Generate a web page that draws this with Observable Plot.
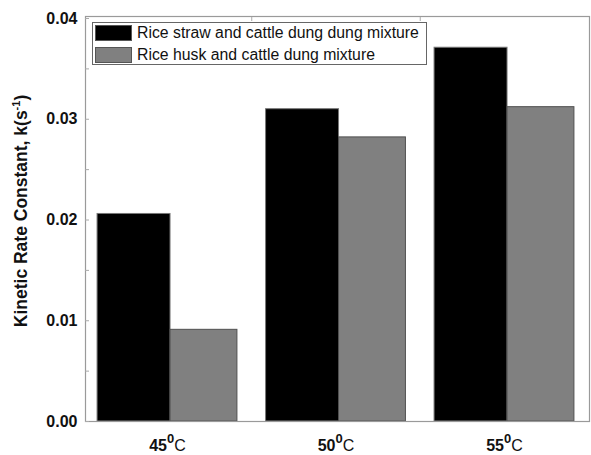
<!DOCTYPE html>
<html>
<head>
<meta charset="utf-8">
<script src="https://cdn.jsdelivr.net/npm/d3@7"></script>
<script src="https://cdn.jsdelivr.net/npm/@observablehq/plot@0.6"></script>
<style>
  body { margin: 0; background: #fff; }
  #wrap { position: relative; width: 591px; height: 455px; font-family: "Liberation Sans", Arial, sans-serif; }
  #legend { position: absolute; left: 92px; top: 22px; width: 335px; height: 43px; border: 1px solid #666; background: #fff; box-sizing: border-box; }
  .row { position: absolute; left: 2px; height: 16px; display: flex; align-items: center; font-size: 15.8px; color: #111; white-space: nowrap; }
  .sw { width: 37px; height: 16px; box-sizing: border-box; border: 1px solid #555; margin-right: 5px; }
</style>
</head>
<body>
<div id="wrap"></div>
<script>
// ---- data ----
const temps = ["45", "50", "55"];
const series = ["Rice straw and cattle dung dung mixture", "Rice husk and cattle dung mixture"];
const strawValues = [0.0206, 0.0310, 0.0371];
const huskValues = [0.0091, 0.0282, 0.0312];
const yTicks = [0, 0.01, 0.02, 0.03, 0.04];
const yMinorTicks = [0.005, 0.015, 0.025, 0.035];

// ---- layout / style ----
const fills = ["#000000", "#808080"];
const strokes = ["#777777", "#505050"];
const barSpan = [[-0.415, 0.018], [0.018, 0.415]];
const valuesBySeries = [strawValues, huskValues];

const rows = [];
series.forEach((s, si) => {
  temps.forEach((t, i) => {
    rows.push({ s, si, t, value: valuesBySeries[si][i], lo: i + barSpan[si][0], hi: i + barSpan[si][1] });
  });
});

const chart = Plot.plot({
  width: 591,
  height: 455,
  marginLeft: 85,
  marginRight: 2,
  marginTop: 16,
  marginBottom: 34,
  style: { fontFamily: "Liberation Sans, Arial, sans-serif", fontSize: "16px", color: "#111", background: "#fff" },
  x: { domain: [-0.4866, 2.5045] },
  y: { domain: [0, 0.0402] },
  marks: [
    Plot.rectY(rows.filter(d => d.si === 0), { x1: "lo", x2: "hi", y: "value", fill: fills[0], stroke: strokes[0], strokeWidth: 1 }),
    Plot.rectY(rows.filter(d => d.si === 1), { x1: "lo", x2: "hi", y: "value", fill: fills[1], stroke: strokes[1], strokeWidth: 1 }),
    Plot.frame({ stroke: "#9a9a9a", strokeWidth: 1.2 }),
    Plot.axisY({ ticks: yTicks, tickSize: 0, tickPadding: 8, tickFormat: d3.format(".2f"), fontWeight: "bold", fontSize: 16, label: null }),
    Plot.axisY({ ticks: yTicks.concat(yMinorTicks), tickSize: 4, dx: 4, text: null, stroke: "#aaa", label: null }),
    Plot.axisX({ anchor: "top", ticks: [0.5, 1.5], tickSize: 4, dy: 4, text: null, stroke: "#aaa", label: null }),
    Plot.axisX({ ticks: temps.map((t, i) => i), tickSize: 0, tickPadding: 18, tickFormat: i => temps[i], fontWeight: "bold", fontSize: 16, label: null })
  ]
});

// superscripts in x tick labels
chart.querySelectorAll('g[aria-label="x-axis tick label"] text').forEach(el => {
  const base = el.textContent;
  if (!base || !temps.includes(base)) return;
  el.textContent = "";
  const ns = "http://www.w3.org/2000/svg";
  const a = document.createElementNS(ns, "tspan"); a.textContent = base;
  const b = document.createElementNS(ns, "tspan"); b.textContent = "0"; b.setAttribute("dy", "-8"); b.setAttribute("font-size", "13");
  const c = document.createElementNS(ns, "tspan"); c.textContent = "C"; c.setAttribute("dy", "8"); c.setAttribute("font-size", "16"); c.setAttribute("font-weight", "normal");
  el.append(a, b, c);
});

// y-axis title with superscript
{
  const ns = "http://www.w3.org/2000/svg";
  const t = document.createElementNS(ns, "text");
  t.setAttribute("transform", "translate(27,211) rotate(-90)");
  t.setAttribute("text-anchor", "middle");
  t.setAttribute("font-weight", "bold");
  t.setAttribute("font-size", "17.5");
  t.setAttribute("fill", "#111");
  const a = document.createElementNS(ns, "tspan"); a.textContent = "Kinetic Rate Constant, k(s";
  const b = document.createElementNS(ns, "tspan"); b.textContent = "-1"; b.setAttribute("dy", "-7"); b.setAttribute("font-size", "11");
  const c = document.createElementNS(ns, "tspan"); c.textContent = ")"; c.setAttribute("dy", "7");
  t.append(a, b, c);
  chart.appendChild(t);
}

const wrap = document.getElementById("wrap");
wrap.appendChild(chart);

// legend
const legend = document.createElement("div");
legend.id = "legend";
series.forEach((s, si) => {
  const row = document.createElement("div");
  row.className = "row";
  row.style.top = (si === 0 ? 2 : 24) + "px";
  const sw = document.createElement("div");
  sw.className = "sw";
  sw.style.background = fills[si];
  const lab = document.createElement("span");
  lab.textContent = s;
  row.append(sw, lab);
  legend.appendChild(row);
});
wrap.appendChild(legend);
</script>
</body>
</html>
